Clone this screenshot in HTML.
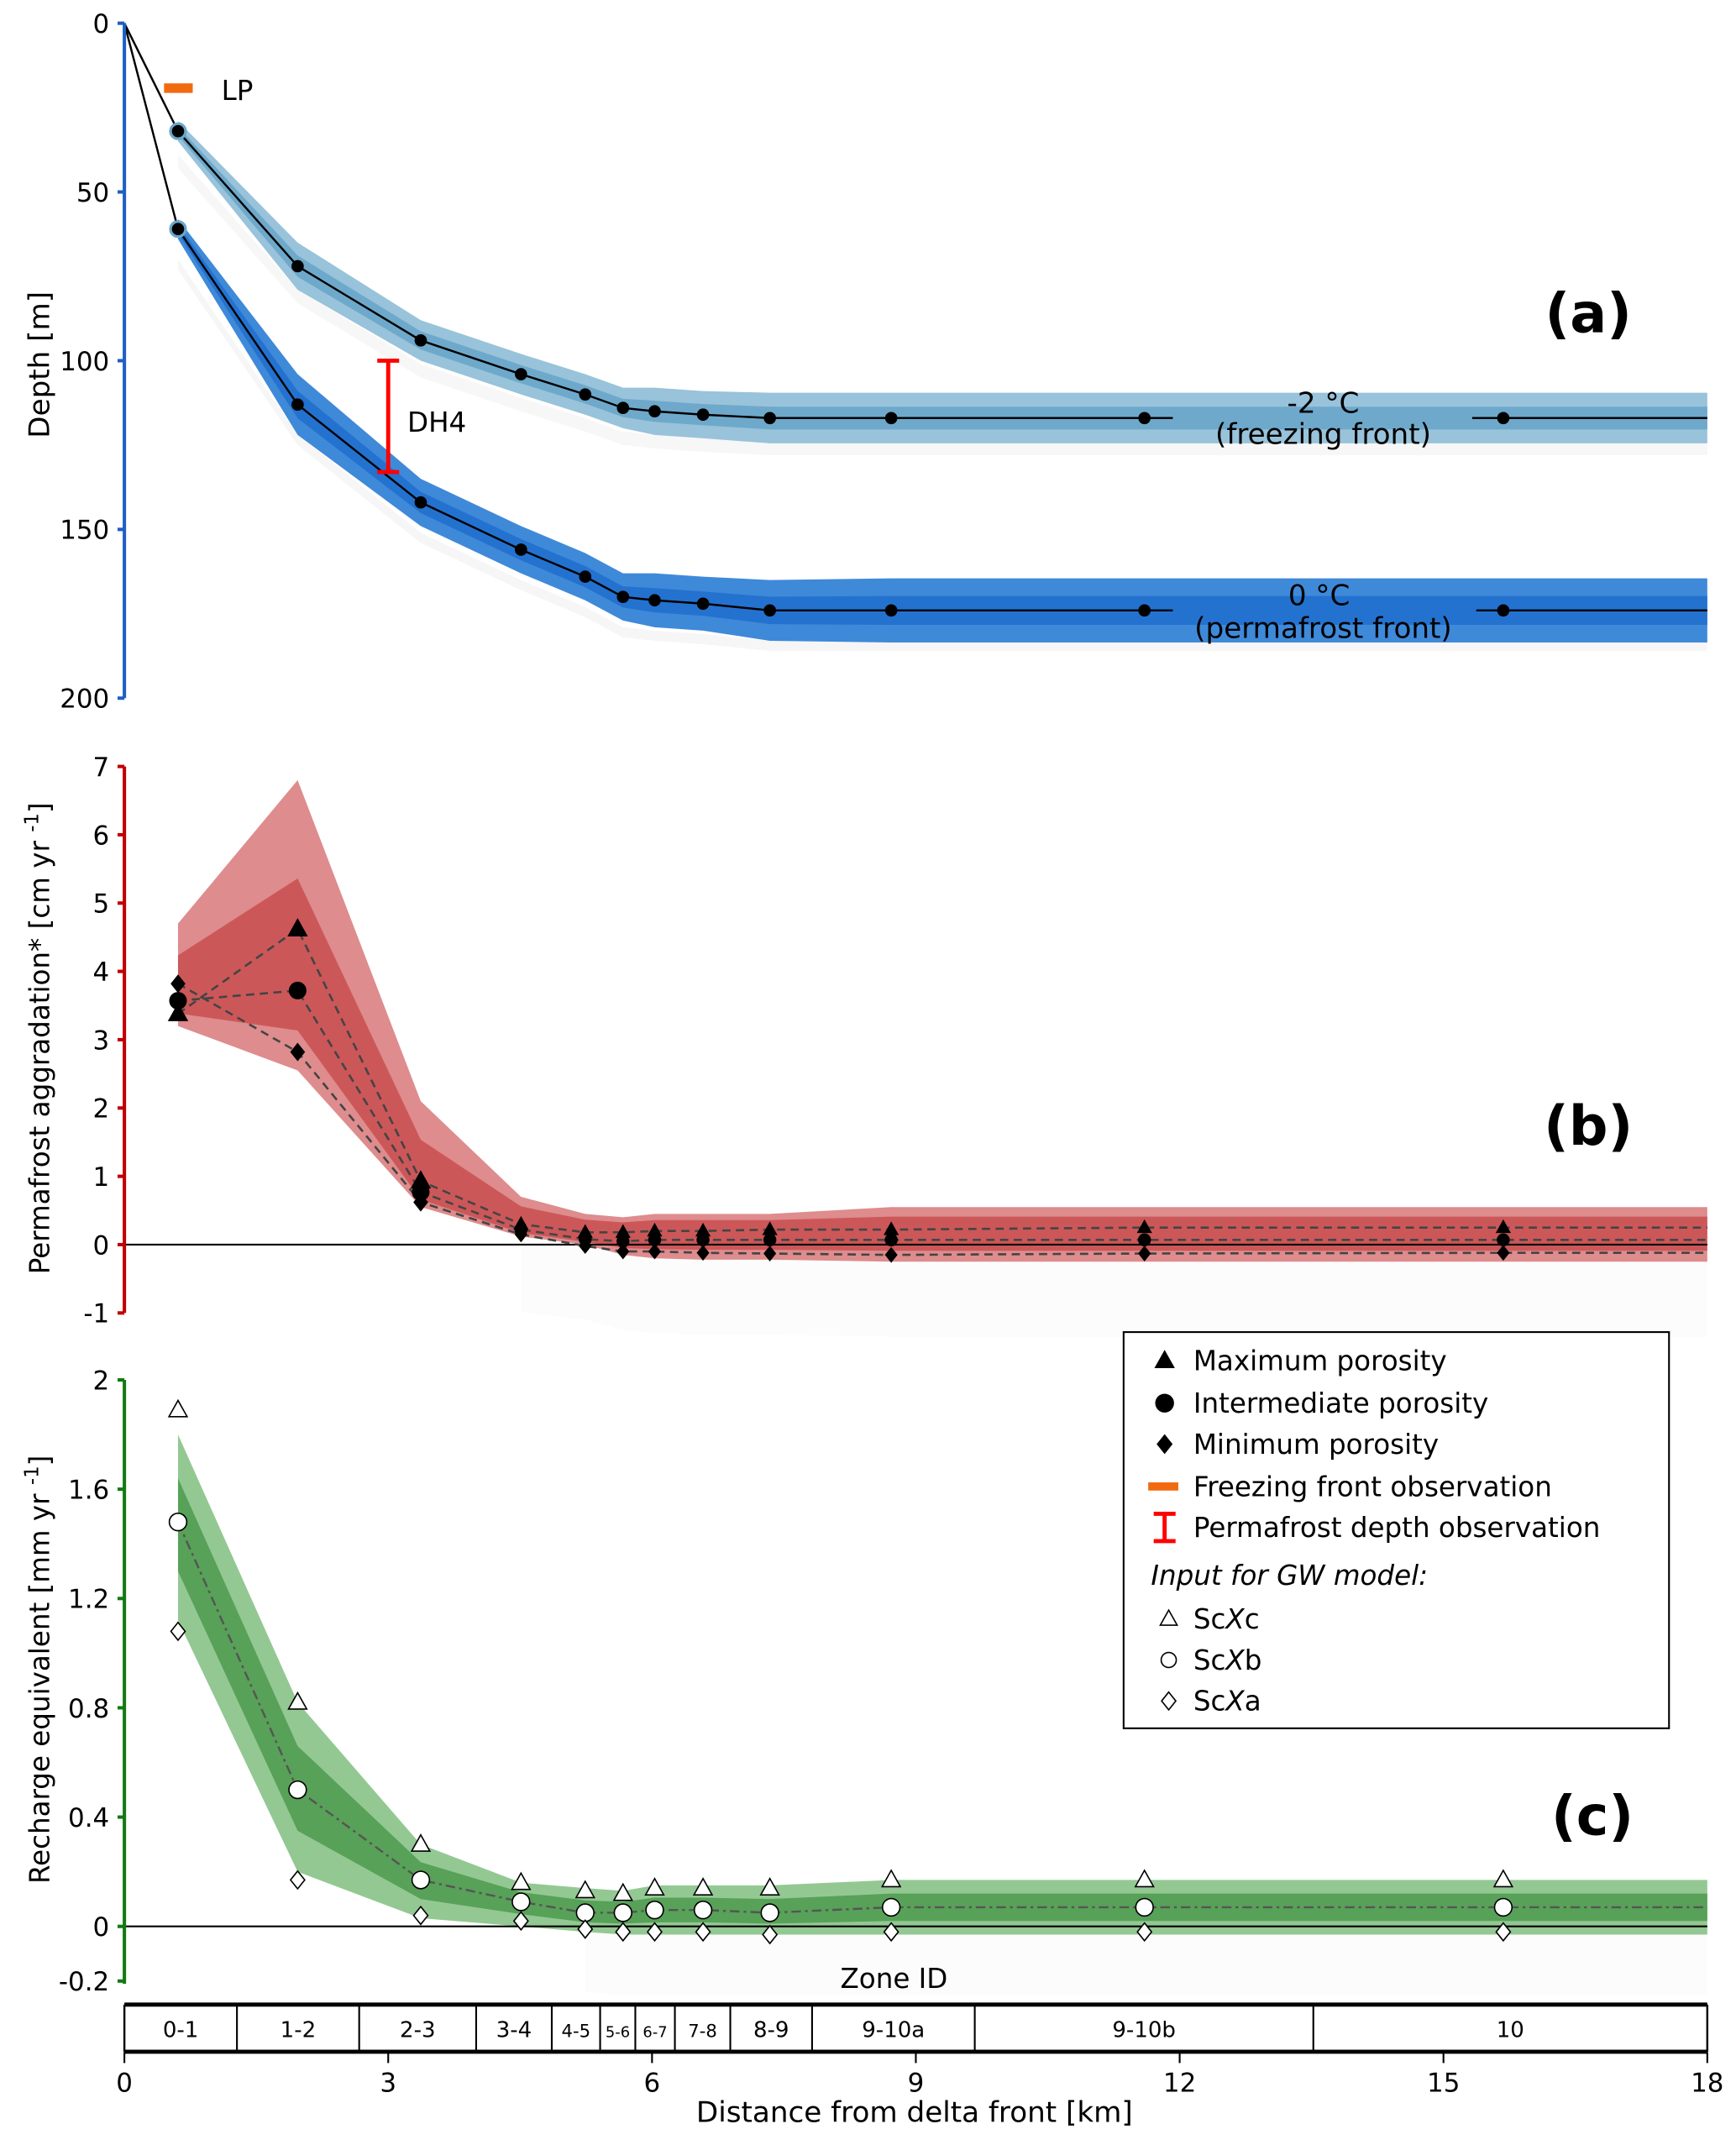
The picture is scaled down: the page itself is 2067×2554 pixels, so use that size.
<!DOCTYPE html>
<html><head><meta charset="utf-8"><style>
html,body{margin:0;padding:0;background:#fff}
svg{display:block}
text{font-family:"DejaVu Sans","Liberation Sans",sans-serif;fill:#000}
</style></head><body>
<svg id="chart" width="2067" height="2554" viewBox="0 0 1270 1570" preserveAspectRatio="none" xmlns="http://www.w3.org/2000/svg">
<g id="layer"></g>
</svg>
<script>
// ---- data ----
const distKm = [0.61, 1.97, 3.37, 4.51, 5.24, 5.67, 6.03, 6.58, 7.34, 8.72, 11.6, 15.68];
const freezeDepth = [32, 72, 94, 104, 110, 114, 115, 116, 117, 117, 117, 117];
const freezeHalf = [3, 7, 6, 6, 6, 6, 7, 7, 7.5, 7.5, 7.5, 7.5];
const pfDepth = [61, 113, 142, 156, 164, 170, 171, 172, 174, 174, 174, 174];
const pfHalf = [3, 9, 7, 7, 7, 7, 8, 8, 9, 9.5, 9.5, 9.5];
const depthTicks = [0, 50, 100, 150, 200];
const aggMax = [3.38, 4.62, 0.93, 0.3, 0.18, 0.18, 0.2, 0.2, 0.22, 0.22, 0.25, 0.25];
const aggInt = [3.57, 3.72, 0.77, 0.22, 0.08, 0.05, 0.07, 0.07, 0.07, 0.07, 0.07, 0.07];
const aggMin = [3.82, 2.82, 0.62, 0.15, -0.02, -0.1, -0.1, -0.12, -0.13, -0.15, -0.13, -0.12];
const aggUpper = [4.7, 6.8, 2.1, 0.7, 0.45, 0.4, 0.45, 0.45, 0.45, 0.55, 0.55, 0.55];
const aggLower = [3.2, 2.55, 0.55, 0.12, 0.0, -0.15, -0.2, -0.22, -0.22, -0.25, -0.25, -0.25];
const aggTicks = [-1, 0, 1, 2, 3, 4, 5, 6, 7];
const rechC = [1.89, 0.82, 0.3, 0.16, 0.13, 0.12, 0.14, 0.14, 0.14, 0.17, 0.17, 0.17];
const rechB = [1.48, 0.5, 0.17, 0.09, 0.05, 0.05, 0.06, 0.06, 0.05, 0.07, 0.07, 0.07];
const rechA = [1.08, 0.17, 0.04, 0.02, -0.01, -0.02, -0.02, -0.02, -0.03, -0.02, -0.02, -0.02];
const rechUpper = [1.8, 0.82, 0.3, 0.16, 0.14, 0.13, 0.15, 0.15, 0.15, 0.17, 0.17, 0.17];
const rechLower = [1.12, 0.2, 0.03, 0.0, -0.02, -0.03, -0.03, -0.03, -0.03, -0.03, -0.03, -0.03];
const rechTicks = [-0.2, 0, 0.4, 0.8, 1.2, 1.6, 2];
const xTicks = [0, 3, 6, 9, 12, 15, 18];
const zoneEdges = [0, 1.28, 2.67, 4.0, 4.86, 5.41, 5.81, 6.26, 6.89, 7.82, 9.67, 13.52, 18];
const zoneLabels = ["0-1","1-2","2-3","3-4","4-5","5-6","6-7","7-8","8-9","9-10a","9-10b","10"];

// ---- scales ----
const X = km => 91 + km * (1249 - 91) / 18;
const YA = d => 17 + d * (511 - 17) / 200;
const YB = v => 911 - v * 50;
const YC = v => 1410 - v * 200;
const NS = "http://www.w3.org/2000/svg";
const L = document.getElementById('layer');
function mk(tag, attrs, parent) {
  const e = document.createElementNS(NS, tag);
  for (const k in attrs) e.setAttribute(k, attrs[k]);
  (parent || L).appendChild(e);
  return e;
}
function txt(s, x, y, size, extra) {
  const t = mk('text', Object.assign({x: x, y: y, 'font-size': size, 'text-anchor': 'middle'}, extra || {}));
  t.textContent = s;
  return t;
}
function bandPath(xs, up, lo) {
  let d = 'M' + xs.map((x, i) => x + ',' + up[i]).join('L');
  for (let i = xs.length - 1; i >= 0; i--) d += 'L' + xs[i] + ',' + lo[i];
  return d + 'Z';
}
const xs = distKm.map(X);
const xsExt = xs.concat([1249]);

// ---------- Panel (a) ----------
function aBand(depth, half, col1, col2, name) {
  const d = depth.concat([depth[depth.length - 1]]);
  const h = half.concat([half[half.length - 1]]);
  const g = mk('g', {});
  
  
  mk('path', {d: bandPath(xsExt, d.map((v, i) => YA(v - h[i])), d.map((v, i) => YA(v + h[i]))), fill: col1}, g);
  mk('path', {d: bandPath(xsExt, d.map((v, i) => YA(v - h[i] * 0.45)), d.map((v, i) => YA(v + h[i] * 0.45))), fill: col2}, g);
}
mk('path', {d: bandPath(xsExt, pfDepth.concat([174]).map(v => YA(v + 9)), pfDepth.concat([174]).map(v => YA(v + 12))), fill: '#f6f6f6'});
mk('path', {d: bandPath(xsExt, freezeDepth.concat([117]).map(v => YA(v + 7)), freezeDepth.concat([117]).map(v => YA(v + 11))), fill: '#f7f7f7'});
aBand(freezeDepth, freezeHalf, '#98c3da', '#6ea9cb', 'freezing-front-band');
aBand(pfDepth, pfHalf, '#3f89d9', '#2472cf', 'permafrost-front-band');

function aLine(depth, name, gapLo, gapHi) {
  const last = depth[depth.length - 1];
  const pts = [[X(0), YA(0)]];
  distKm.forEach((k, i) => { if (X(k) < gapLo) pts.push([X(k), YA(depth[i])]); });
  let d = 'M' + pts.map(p => p.join(',')).join('L') + 'L' + gapLo + ',' + YA(last);
  d += 'M' + gapHi + ',' + YA(last) + 'L1249,' + YA(last);
  const p = mk('path', {d: d, fill: 'none', stroke: '#000', 'stroke-width': 1.5});
  
  
  depth.forEach((v, i) => {
    const c = mk('circle', {cx: X(distKm[i]), cy: YA(v), r: i === 0 ? 5.5 : 4.5, fill: '#000', stroke: i === 0 ? '#6aa7cb' : 'none', 'stroke-width': 2});
    
    
  });
}
aLine(freezeDepth, 'freezing-front-line', 858, 1077);
aLine(pfDepth, 'permafrost-front-line', 858, 1080);

mk('line', {x1: 91, y1: 17, x2: 91, y2: 511, stroke: '#1f5fc2', 'stroke-width': 2.5});
depthTicks.forEach(v => {
  mk('line', {x1: 86, y1: YA(v), x2: 91, y2: YA(v), stroke: '#1f5fc2', 'stroke-width': 2.5});
  const t = txt(String(v), 80, YA(v) + 7, 19, {'text-anchor': 'end'});
  
  
});
let t = txt('Depth [m]', 0, 0, 21, {transform: 'translate(36,267) rotate(-90)'});


mk('rect', {x: 120, y: 61, width: 21, height: 7, fill: '#f26a10'});
txt('LP', 162, 73, 20, {'text-anchor': 'start'});
const dhx = X(3.0);
mk('path', {d: `M${dhx - 8},${YA(100)}H${dhx + 8}M${dhx},${YA(100)}V${YA(133)}M${dhx - 8},${YA(133)}H${dhx + 8}`, stroke: '#f00', 'stroke-width': 3, fill: 'none'});
txt('DH4', 298, 316, 20, {'text-anchor': 'start'});
txt('-2 °C', 968, 302, 21);
txt('(freezing front)', 968, 325, 21);
txt('0 °C', 965, 443, 21);
txt('(permafrost front)', 968, 467, 21);
t = txt('(a)', 1162, 243, 40, {'font-weight': 'bold'});



// ---------- Panel (b) ----------
mk('path', {d: bandPath(xs.slice(3).concat([1249]), aggLower.slice(3).concat([-0.25]).map(v => YB(v)), aggLower.slice(3).concat([-0.25]).map(v => YB(v - 1.1))), fill: '#fcfcfc'});
let bb = mk('path', {d: bandPath(xsExt, aggUpper.concat([0.55]).map(YB), aggLower.concat([-0.25]).map(YB)), fill: '#de8c8d'});


const midU = aggUpper.map((u, i) => (u + aggInt[i]) / 2 + 0.1);
const midL = aggLower.map((l, i) => (l + aggInt[i]) / 2);
mk('path', {d: bandPath(xsExt, midU.concat([midU[11]]).map(YB), midL.concat([midL[11]]).map(YB)), fill: '#c94e50', opacity: 0.85});
mk('line', {x1: 91, y1: YB(0), x2: 1249, y2: YB(0), stroke: '#000', 'stroke-width': 1.3});
[[aggMax, 'tri'], [aggInt, 'circ'], [aggMin, 'dia']].forEach(([arr, shape]) => {
  const p = mk('path', {d: 'M' + arr.map((v, i) => xs[i] + ',' + YB(v)).join('L') + 'L1249,' + YB(arr[arr.length - 1]), fill: 'none', stroke: '#444', 'stroke-width': 1.6, 'stroke-dasharray': '6,4'});
  
  
});
function marker(shape, x, y, s, fill, name) {
  let e;
  if (shape === 'tri') e = mk('path', {d: `M${x},${y - s}L${x + s * 0.95},${y + s * 0.7}L${x - s * 0.95},${y + s * 0.7}Z`, fill: fill, stroke: '#000', 'stroke-width': 1});
  else if (shape === 'circ') e = mk('circle', {cx: x, cy: y, r: s * 0.85, fill: fill, stroke: '#000', 'stroke-width': 1});
  else e = mk('path', {d: `M${x},${y - s}L${x + s * 0.8},${y}L${x},${y + s}L${x - s * 0.8},${y}Z`, fill: fill, stroke: '#000', 'stroke-width': 1});
  
  
}
aggMax.forEach((v, i) => marker('tri', xs[i], YB(v), i < 3 ? 7 : 5, '#000', 'max-porosity-point'));
aggInt.forEach((v, i) => marker('circ', xs[i], YB(v), i < 3 ? 7 : 5, '#000', 'intermediate-porosity-point'));
aggMin.forEach((v, i) => marker('dia', xs[i], YB(v), i < 3 ? 6 : 5, '#000', 'min-porosity-point'));
mk('line', {x1: 91, y1: 561, x2: 91, y2: 961, stroke: '#c00000', 'stroke-width': 2.5});
aggTicks.forEach(v => {
  mk('line', {x1: 86, y1: YB(v), x2: 91, y2: YB(v), stroke: '#c00000', 'stroke-width': 2.5});
  const tt = txt(String(v), 80, YB(v) + 7, 19, {'text-anchor': 'end'});
  
  
});
t = mk('text', {x: 0, y: 0, 'font-size': 20, 'text-anchor': 'middle', transform: 'translate(36,760) rotate(-90)'});
t.innerHTML = 'Permafrost aggradation* [cm yr <tspan dy="-8" font-size="14">-1</tspan><tspan dy="8">]</tspan>';


t = txt('(b)', 1162, 838, 40, {'font-weight': 'bold'});



// ---------- Panel (c) ----------
mk('path', {d: bandPath(xs.slice(4).concat([1249]), rechLower.slice(4).concat([-0.03]).map(YC), rechLower.slice(4).concat([-0.03]).map(v => YC(v - 0.22))), fill: '#fcfcfc'});
let gb = mk('path', {d: bandPath(xsExt, rechUpper.concat([0.17]).map(YC), rechLower.concat([-0.03]).map(YC)), fill: '#93c893'});


const gU = rechUpper.map((u, i) => (u + rechB[i]) / 2);
const gL = rechLower.map((l, i) => (l + rechB[i]) / 2);
mk('path', {d: bandPath(xsExt, gU.concat([gU[11]]).map(YC), gL.concat([gL[11]]).map(YC)), fill: '#4e9a4e', opacity: 0.85});
mk('line', {x1: 91, y1: YC(0), x2: 1249, y2: YC(0), stroke: '#000', 'stroke-width': 1.3});
let rl = mk('path', {d: 'M' + rechB.map((v, i) => xs[i] + ',' + YC(v)).join('L') + 'L1249,' + YC(rechB[11]), fill: 'none', stroke: '#555', 'stroke-width': 1.5, 'stroke-dasharray': '7,3,2,3'});


rechC.forEach((v, i) => marker('tri', xs[i], YC(v), 7, '#fff', 'scxc-point'));
rechB.forEach((v, i) => marker('circ', xs[i], YC(v), 7.5, '#fff', 'scxb-point'));
rechA.forEach((v, i) => marker('dia', xs[i], YC(v), 6.5, '#fff', 'scxa-point'));
mk('line', {x1: 91, y1: 1010, x2: 91, y2: 1452, stroke: '#137a13', 'stroke-width': 2.5});
rechTicks.forEach(v => {
  mk('line', {x1: 86, y1: YC(v), x2: 91, y2: YC(v), stroke: '#137a13', 'stroke-width': 2.5});
  const tt = txt(String(v), 80, YC(v) + 7, 19, {'text-anchor': 'end'});
  
  
});
t = mk('text', {x: 0, y: 0, 'font-size': 20, 'text-anchor': 'middle', transform: 'translate(36,1222) rotate(-90)'});
t.innerHTML = 'Recharge equivalent [mm yr <tspan dy="-8" font-size="14">-1</tspan><tspan dy="8">]</tspan>';


t = txt('(c)', 1165, 1343, 40, {'font-weight': 'bold'});


txt('Zone ID', 654, 1455, 20);

// zone box
mk('rect', {x: 91, y: 1468, width: 1158, height: 33, fill: '#fff', stroke: '#000', 'stroke-width': 1.5});
mk('line', {x1: 91, y1: 1467, x2: 1249, y2: 1467, stroke: '#000', 'stroke-width': 2.5});
mk('line', {x1: 91, y1: 1502, x2: 1249, y2: 1502, stroke: '#000', 'stroke-width': 2.5});
zoneEdges.slice(1, -1).forEach(k => mk('line', {x1: X(k), y1: 1468, x2: X(k), y2: 1501, stroke: '#000', 'stroke-width': 1.3}));
zoneLabels.forEach((s, i) => {
  const w = X(zoneEdges[i + 1]) - X(zoneEdges[i]);
  const z = txt(s, (X(zoneEdges[i]) + X(zoneEdges[i + 1])) / 2, 1491, w < 30 ? 11 : (w < 45 ? 13 : 16));
  
  
});
xTicks.forEach(k => {
  mk('line', {x1: X(k), y1: 1502, x2: X(k), y2: 1510, stroke: '#000', 'stroke-width': 1.3});
  const tt = txt(String(k), X(k), 1531, 19);
  
  
});
t = txt('Distance from delta front [km]', 669, 1553, 21);



// ---------- legend ----------
const lg = mk('g', {});


mk('rect', {x: 822, y: 975, width: 399, height: 290, fill: '#fff', stroke: '#000', 'stroke-width': 1.3}, lg);
const legTexts = ['Maximum porosity', 'Intermediate porosity', 'Minimum porosity', 'Freezing front observation', 'Permafrost depth observation'];
const legY = [996, 1027, 1057, 1088, 1118];
legTexts.forEach((s, i) => {
  const e = txt(s, 873, legY[i] + 7, 20, {'text-anchor': 'start'});
  
  
});
marker('tri', 852, 996, 7, '#000', 'legend-max-symbol');
marker('circ', 852, 1027, 7.5, '#000', 'legend-int-symbol');
marker('dia', 852, 1057, 6.5, '#000', 'legend-min-symbol');
mk('rect', {x: 840, y: 1085, width: 22, height: 6, fill: '#f26a10'}, lg);
mk('path', {d: 'M844,1108H860M852,1108V1128M844,1128H860', stroke: '#f00', 'stroke-width': 3, fill: 'none'}, lg);
txt('Input for GW model:', 842, 1160, 20, {'text-anchor': 'start', 'font-style': 'italic'});
[['Sc', 'X', 'c', 1185, 'tri'], ['Sc', 'X', 'b', 1215, 'circ'], ['Sc', 'X', 'a', 1245, 'dia']].forEach(([a, b, c, y, sh]) => {
  const e = mk('text', {x: 873, y: y + 7, 'font-size': 20});
  
  
  e.innerHTML = a + '<tspan font-style="italic">' + b + '</tspan>' + c;
  marker(sh, 855, y, 6.5, '#fff', 'legend-' + sh + '-open-symbol');
});
</script>
</body></html>
